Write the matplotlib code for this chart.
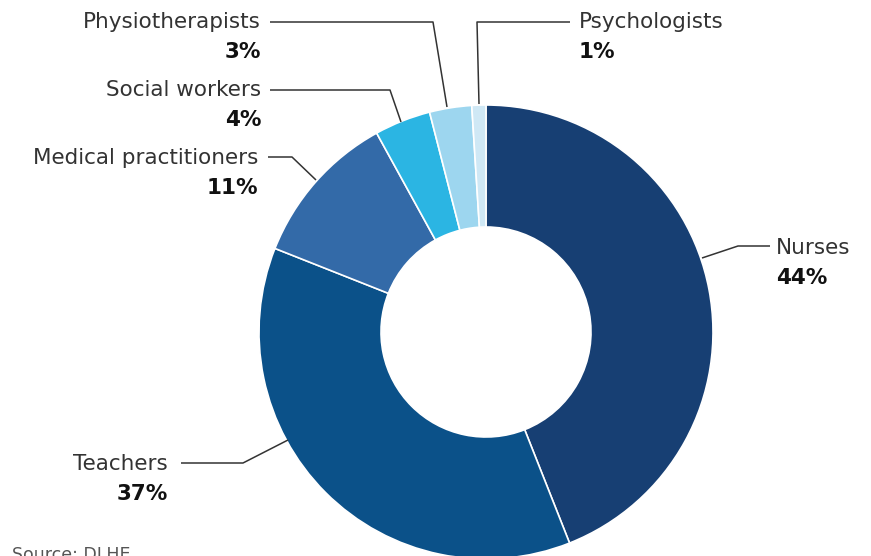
import matplotlib.pyplot as plt

professions = ['Nurses', 'Teachers', 'Medical practitioners', 'Social workers',
               'Physiotherapists', 'Psychologists']
shares = [44, 37, 11, 4, 3, 1]
colors = ['#173f73', '#0b5189', '#336aa8', '#2bb5e3', '#9dd6ef', '#cfe8f5']

W, H = 871, 556
fig = plt.figure(figsize=(W / 100, H / 100), dpi=100)
ax = fig.add_axes([0, 0, 1, 1])

def py(y):
    # pixel row (from top) to data y
    return H - y

# donut
ax.pie(shares, colors=colors, startangle=90, counterclock=False,
       center=(486, py(332)), radius=227, frame=True,
       wedgeprops=dict(width=122, edgecolor='white', linewidth=1.2))
ax.set_xlim(0, W)
ax.set_ylim(0, H)
ax.set_aspect('equal')
ax.axis('off')

# leader lines and labels: (line points, text x, text y, alignment)
layout = {
    'Nurses': ([(702, 258), (738, 246), (770, 246)], 776, 248, 'left'),
    'Teachers': ([(288, 440), (243, 463), (181, 463)], 168, 464, 'right'),
    'Medical practitioners': ([(316, 180), (292, 157), (268, 157)], 258, 158, 'right'),
    'Social workers': ([(401, 122), (390, 90), (270, 90)], 261, 90, 'right'),
    'Physiotherapists': ([(447, 107), (433, 22), (270, 22)], 261, 22, 'right'),
    'Psychologists': ([(479, 104), (477, 22), (570, 22)], 579, 22, 'left'),
}

font = 'DejaVu Sans'
for name, val in zip(professions, shares):
    pts, tx, ty, ha = layout[name]
    xs = [p[0] for p in pts]
    ys = [py(p[1]) for p in pts]
    ax.plot(xs, ys, color='#333333', lw=1.1, solid_capstyle='butt')
    ax.text(tx, py(ty), name, ha=ha, va='center', fontsize=15.5,
            color='#333333', family=font)
    ax.text(tx, py(ty + 30), f'{val}%', ha=ha, va='center', fontsize=15.5,
            fontweight='bold', color='#111111', family=font)

ax.text(12, py(560), 'Source: DLHE', ha='left', va='baseline', fontsize=12.5,
        color='#555555', family=font, clip_on=False)

fig.savefig('out.png', dpi=100, facecolor='white')
